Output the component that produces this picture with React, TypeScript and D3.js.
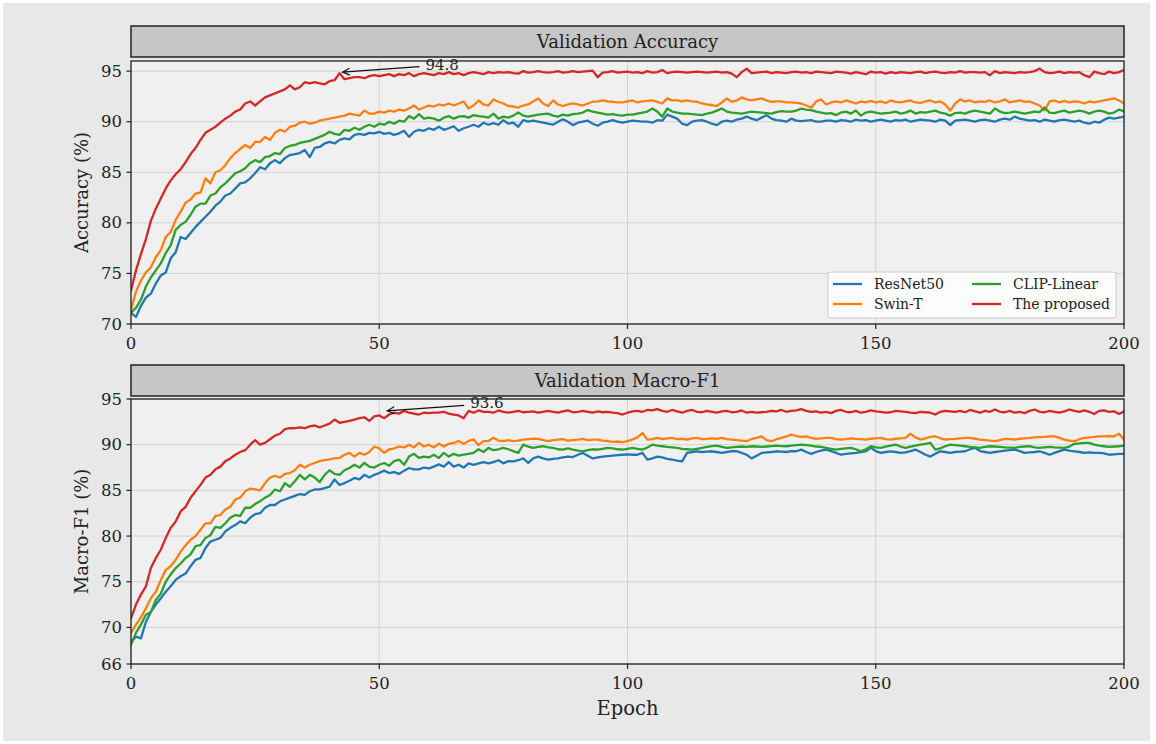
import { useEffect, useRef } from 'react';
import * as d3 from 'd3';

const WIDTH = 1156;
const HEIGHT = 744;

const EPOCH_TICKS = [0, 50, 100, 150, 200];
const ACC_TICKS = [70, 75, 80, 85, 90, 95];
const F1_TICKS = [66, 70, 75, 80, 85, 90, 95];

const MODELS = ['ResNet50', 'Swin-T', 'CLIP-Linear', 'The proposed'];
const COLORS = ['#1f77b4', '#ff7f0e', '#2ca02c', '#d62728'];

// validation accuracy per epoch (0..200)
const RESNET_ACC = [
  71.1, 70.7, 71.8, 72.6, 73.0, 74.0, 74.8, 75.1, 76.5, 77.1,
  78.6, 78.4, 79.0, 79.6, 80.1, 80.6, 81.1, 81.7, 82.1, 82.7,
  82.9, 83.4, 83.9, 84.0, 84.4, 84.9, 85.5, 85.3, 85.9, 86.2,
  85.9, 86.4, 86.7, 86.8, 86.9, 87.2, 86.5, 87.4, 87.5, 87.85,
  88.0, 87.85, 88.2, 88.35, 88.25, 88.7, 88.8, 88.7, 88.9, 88.85,
  89.0, 88.8, 88.9, 88.7, 88.85, 89.1, 88.5, 89.0, 89.2, 89.1,
  89.35, 89.2, 89.5, 89.2, 89.35, 89.55, 89.1, 89.35, 89.5, 89.7,
  89.5, 89.9, 89.7, 89.85, 89.7, 90.15, 89.8, 89.9, 89.5, 90.15,
  90.0, 90.1, 90.0, 89.9, 89.8, 89.7, 90.0, 90.25, 90.0, 89.66,
  89.9, 90.0, 90.1, 89.8, 89.6, 89.9, 90.0, 90.15, 90.0, 89.9,
  90.0, 90.1, 90.05, 90.0, 90.0, 89.9, 90.15, 90.1, 90.7, 90.5,
  90.3, 89.8, 89.66, 90.0, 90.1, 90.15, 90.0, 89.8, 89.66, 90.0,
  90.1, 90.0, 90.2, 90.3, 90.5, 90.3, 90.15, 90.4, 90.65, 90.3,
  90.15, 90.1, 90.0, 90.3, 90.1, 90.05, 90.1, 90.15, 90.0, 90.0,
  90.1, 90.1, 90.0, 90.15, 90.1, 90.0, 90.2, 90.1, 90.15, 90.0,
  90.1, 90.2, 90.1, 90.0, 90.15, 90.1, 90.2, 90.0, 90.1, 90.2,
  90.15, 90.1, 90.0, 90.2, 90.1, 89.66, 90.1, 90.15, 90.2, 90.1,
  90.0, 90.15, 90.2, 90.1, 90.0, 90.2, 90.3, 90.2, 90.5, 90.3,
  90.2, 90.1, 90.15, 90.0, 90.2, 90.1, 90.0, 90.15, 90.2, 90.1,
  90.0, 90.1, 89.9, 89.8, 90.0, 89.9, 90.2, 90.4, 90.3, 90.4,
  90.5,
];
const SWIN_ACC = [
  71.4, 73.2, 74.3, 75.1, 75.6, 76.6, 77.3, 78.6, 79.1, 80.3,
  81.1, 82.0, 82.3, 82.9, 83.0, 84.4, 83.9, 85.0, 85.2, 85.7,
  86.4, 86.9, 87.3, 87.7, 87.4, 88.0, 88.0, 88.5, 88.2, 88.9,
  89.2, 89.0, 89.5, 89.6, 89.9, 90.0, 89.8, 89.9, 90.1, 90.2,
  90.3, 90.4, 90.5, 90.6, 90.8, 90.7, 90.6, 91.1, 90.8, 90.8,
  91.0, 90.9, 91.1, 91.0, 91.2, 91.1, 91.3, 91.6, 91.2, 91.4,
  91.6, 91.5, 91.7, 91.6, 91.8, 91.6, 91.8, 92.0, 91.3, 91.6,
  92.1, 91.7, 91.6, 92.2, 91.97, 91.8, 91.55, 91.5, 91.4, 91.6,
  91.7, 92.0, 92.3, 91.8, 91.55, 92.1, 91.7, 91.55, 91.7, 91.8,
  91.7, 91.6, 91.8, 91.97, 92.0, 92.1, 92.0, 91.97, 91.9, 91.9,
  92.0, 92.1, 91.9, 92.0, 92.05, 92.1, 91.95, 91.8, 92.3, 92.1,
  92.1, 92.0, 92.1, 92.0, 91.97, 91.8, 91.7, 91.65, 91.55, 91.9,
  92.3, 91.97, 92.1, 92.4, 92.2, 92.1, 92.2, 92.3, 92.1, 91.97,
  92.0, 92.0, 91.9, 91.9, 91.85, 91.8, 91.6, 91.4, 92.0, 92.2,
  91.7, 91.9, 92.0, 91.9, 92.1, 91.95, 91.8, 92.0, 91.9, 92.05,
  91.9, 92.0, 91.85, 92.1, 91.95, 91.9, 92.0, 92.1, 91.9, 91.85,
  92.0, 92.1, 91.9, 92.0, 91.7, 91.1, 91.8, 92.2, 92.0, 92.1,
  91.9, 92.0, 91.95, 92.1, 91.9, 92.0, 92.2, 91.9, 92.0, 92.1,
  91.95, 92.0, 91.8, 91.6, 91.1, 92.0, 92.1, 91.9, 92.05, 91.9,
  92.0, 91.95, 91.8, 92.0, 91.9, 92.0, 92.1, 92.2, 92.3, 92.1,
  91.8,
];
const CLIP_ACC = [
  71.1, 71.6, 72.4, 73.7, 74.6, 75.3, 76.0, 77.0, 77.8, 79.3,
  79.8, 80.1, 80.8, 81.6, 81.9, 81.9, 82.7, 82.9, 83.5, 83.9,
  84.4, 84.9, 85.1, 85.4, 85.9, 86.2, 86.0, 86.5, 86.6, 86.9,
  86.8, 87.4, 87.6, 87.7, 87.9, 88.0, 88.1, 88.3, 88.5, 88.7,
  89.0, 88.8, 88.7, 89.2, 89.1, 89.4, 89.2, 89.5, 89.7, 89.5,
  89.8, 89.7, 90.0, 89.8, 90.1, 90.0, 90.55, 90.3, 90.75, 90.3,
  90.4, 90.3, 90.1, 90.4, 90.55, 90.3, 90.5, 90.55, 90.4, 90.65,
  90.55, 90.5, 90.4, 90.8, 90.3, 90.5, 90.4, 90.6, 90.9, 90.6,
  90.5, 90.6, 90.7, 90.75, 90.8, 90.6, 90.5, 90.7, 90.6, 90.75,
  90.8, 90.9, 91.15, 91.0, 90.9, 90.8, 90.7, 90.75, 90.65, 90.6,
  90.7, 90.7, 90.8, 90.9, 91.0, 91.3, 91.0, 90.5, 91.3, 91.0,
  90.9, 90.8, 90.8, 90.75, 90.7, 90.65, 90.8, 90.9, 91.1, 91.3,
  91.0, 90.9, 90.85, 90.8, 90.9, 91.0, 90.95, 90.9, 90.85, 90.8,
  90.95, 91.05, 91.0, 91.0, 91.1, 91.3, 91.2, 91.15, 91.0, 90.9,
  90.8, 90.85, 90.65, 90.9, 91.0, 90.8, 91.1, 90.6, 90.9, 91.0,
  90.9, 90.8, 90.85, 90.9, 91.0, 90.8, 90.9, 91.1, 90.8, 90.95,
  90.9, 91.0, 91.1, 90.9, 90.8, 90.6, 90.85, 90.9, 90.8, 91.0,
  91.1, 91.0, 90.9, 90.8, 91.3, 91.0, 90.85, 90.9, 91.0, 90.9,
  90.8, 90.9, 91.0, 90.95, 91.4, 90.9, 90.85, 91.0, 91.1, 90.9,
  91.0, 91.1, 91.0, 90.8, 91.0, 91.1, 91.0, 90.8, 90.9, 91.2,
  91.0,
];
const PROPOSED_ACC = [
  73.3, 75.3, 76.9, 78.4, 80.2, 81.4, 82.4, 83.4, 84.2, 84.8,
  85.3, 86.0, 86.8, 87.4, 88.2, 88.9, 89.2, 89.5, 89.9, 90.3,
  90.6, 91.0, 91.2, 91.8, 92.0, 91.6, 92.0, 92.4, 92.6, 92.8,
  93.0, 93.2, 93.6, 93.2, 93.4, 93.9, 93.8, 93.9, 93.8, 93.7,
  94.0, 94.1, 94.8, 94.2, 94.3, 94.4, 94.4, 94.3, 94.5, 94.6,
  94.5, 94.6, 94.7, 94.5, 94.7, 94.6, 94.8, 94.5, 94.7, 94.8,
  94.7, 94.6, 94.8, 94.7, 94.9, 94.7, 94.8, 94.6, 94.8, 94.9,
  94.8, 94.7, 94.9, 94.8, 94.9, 94.85, 94.9, 94.8, 94.75, 95.0,
  94.85, 94.9, 95.0, 94.9, 94.85, 94.9, 95.0, 94.85, 94.9, 95.0,
  94.9, 94.95, 95.0, 95.05, 94.4, 94.85, 94.9, 95.0, 94.85, 94.9,
  94.95, 94.85, 94.9, 94.8, 95.0, 94.85, 94.9, 95.1, 94.8, 94.9,
  94.95, 94.9, 94.85, 94.9, 94.95, 94.9, 94.85, 94.9, 94.95, 94.85,
  94.9, 94.75, 94.4, 94.9, 95.25, 94.8, 94.85, 94.9, 94.95, 94.8,
  94.9, 94.85, 94.8, 94.9, 94.95, 94.85, 94.9, 94.8, 94.95, 94.9,
  94.85, 94.8, 94.95, 94.9, 94.85, 94.75, 94.9, 94.8, 94.7, 94.95,
  94.85, 94.9, 94.75, 94.9, 94.8, 94.9, 94.85, 94.8, 94.9, 94.95,
  94.8, 94.9, 94.95, 94.85, 94.8, 94.9, 94.85, 95.0, 94.85, 94.9,
  94.9, 94.85, 94.9, 94.6, 95.0, 94.8, 94.9, 94.85, 94.8, 94.9,
  94.85, 94.9, 95.0, 95.25, 94.9, 94.8, 94.85, 94.95, 94.8, 94.9,
  94.85, 94.9, 94.6, 94.4, 94.95, 94.8, 94.7, 94.95, 94.8, 94.9,
  95.1,
];

// validation macro-F1 per epoch (0..200)
const RESNET_F1 = [
  68.4, 69.0, 68.8, 70.6, 71.7, 72.5, 73.2, 73.9, 74.5, 75.2,
  75.6, 75.9, 76.7, 77.4, 77.6, 78.7, 79.4, 79.6, 79.8, 80.5,
  80.9, 81.2, 81.6, 81.4, 82.0, 82.4, 82.5, 83.1, 83.4, 83.4,
  83.8, 84.0, 84.2, 84.4, 84.6, 84.5, 84.9, 85.1, 85.1, 85.25,
  85.4, 86.2, 85.6, 85.8, 86.05, 86.36, 86.2, 86.7, 86.4, 86.7,
  86.9, 87.16, 86.9, 87.0, 86.8, 87.16, 87.45, 87.3, 87.3, 87.5,
  87.4, 87.6, 87.85, 87.6, 88.1, 87.6, 87.8, 87.5, 87.96, 87.8,
  87.96, 88.1, 87.96, 88.1, 88.3, 87.96, 88.2, 88.18, 88.3, 88.5,
  88.0, 88.5, 88.7, 88.5, 88.36, 88.45, 88.5, 88.6, 88.7, 88.65,
  88.9, 89.1, 88.8, 88.5, 88.6, 88.7, 88.75, 88.8, 88.85, 88.9,
  88.95, 88.9, 88.9, 89.1, 88.36, 88.5, 88.7, 88.6, 88.45, 88.36,
  88.25, 88.18, 89.1, 89.2, 89.28, 89.2, 89.25, 89.28, 89.2, 89.1,
  89.2, 89.3, 89.28, 89.1, 88.9, 88.5, 88.8, 89.1, 89.15, 89.2,
  89.28, 89.25, 89.2, 89.3, 89.28, 89.46, 89.2, 89.0, 89.2, 89.35,
  89.46, 89.3, 89.1, 88.9, 89.0, 89.05, 89.1, 89.2, 89.28, 89.65,
  89.3, 89.1, 89.2, 89.28, 89.2, 89.1, 89.15, 89.3, 89.46, 89.2,
  88.9, 88.7, 89.0, 89.28, 89.2, 89.1, 89.2, 89.25, 89.28, 89.5,
  89.65, 89.3, 89.2, 89.1, 89.2, 89.28, 89.35, 89.4, 89.46, 89.3,
  89.1, 89.15, 89.2, 89.28, 89.1, 88.9, 89.1, 89.3, 89.46, 89.35,
  89.28, 89.2, 89.1, 89.15, 89.1, 89.1, 89.05, 88.9, 88.95, 89.0,
  89.0,
];
const SWIN_F1 = [
  69.4, 70.3, 71.1, 72.1, 73.2, 73.9, 75.2, 76.3, 76.7, 77.4,
  78.3, 79.0, 79.6, 80.0, 80.7, 81.4, 81.4, 82.2, 82.3, 82.9,
  83.2, 84.0, 84.2, 84.9, 85.2, 85.1, 85.0, 85.8, 86.4, 86.6,
  86.4, 86.8, 86.9, 87.2, 87.8, 87.5, 87.8, 88.0, 88.2, 88.3,
  88.4, 88.5, 88.55, 88.9, 89.1, 88.7, 89.1, 88.9, 89.2, 89.8,
  89.6, 89.1, 89.5, 89.6, 89.8, 89.7, 90.0, 89.7, 90.2, 89.8,
  90.0, 89.7, 90.1, 89.8, 90.1, 90.2, 90.4, 90.1, 90.4, 90.6,
  89.95, 90.4, 90.4, 90.75, 90.45, 90.4, 90.5, 90.38, 90.45, 90.56,
  90.6, 90.65, 90.63, 90.5, 90.38, 90.5, 90.56, 90.6, 90.45, 90.5,
  90.55, 90.63, 90.5, 90.56, 90.56, 90.45, 90.38, 90.3, 90.35, 90.27,
  90.4, 90.56, 90.8, 91.28, 90.56, 90.6, 90.74, 90.6, 90.7, 90.74,
  90.6, 90.65, 90.56, 90.7, 90.74, 90.6, 90.63, 90.7, 90.65, 90.74,
  90.6, 90.56, 90.5, 90.45, 90.38, 90.63, 90.75, 90.92, 90.5, 90.38,
  90.6, 90.74, 90.9, 91.1, 90.95, 90.85, 90.92, 90.75, 90.63, 90.7,
  90.74, 90.74, 90.6, 90.56, 90.6, 90.7, 90.63, 90.6, 90.56, 90.65,
  90.7, 90.74, 90.6, 90.56, 90.65, 90.7, 90.74, 91.2, 90.8, 90.56,
  90.7, 90.85, 90.92, 90.7, 90.56, 90.6, 90.63, 90.7, 90.74, 90.74,
  90.65, 90.56, 90.5, 90.45, 90.38, 90.5, 90.63, 90.6, 90.56, 90.65,
  90.7, 90.74, 90.8, 90.83, 90.85, 90.9, 90.92, 90.75, 90.56, 90.45,
  90.38, 90.6, 90.74, 90.8, 90.85, 90.92, 90.9, 90.95, 90.92, 91.2,
  90.56,
];
const CLIP_F1 = [
  68.1, 69.4, 70.3, 71.4, 71.7, 73.0, 73.7, 75.0, 75.8, 76.5,
  77.0, 77.6, 78.0, 78.9, 79.0, 79.8, 80.1, 81.0, 80.9, 81.4,
  82.0, 82.3, 82.2, 83.1, 83.1, 83.5, 83.8, 84.2, 84.5, 85.1,
  84.9, 85.8, 85.4, 86.0, 86.7, 86.2, 86.7, 86.4, 85.9, 86.7,
  87.2, 86.8, 86.7, 87.2, 87.45, 87.8, 87.5, 88.0, 87.6, 87.5,
  87.8, 88.0, 87.7, 88.2, 88.37, 87.8, 88.7, 89.0, 88.55, 88.7,
  88.6, 88.9, 88.55, 89.1, 88.7, 89.0, 88.8, 88.9, 89.0, 89.1,
  89.5, 89.2, 89.65, 89.4, 89.5, 89.65, 89.5, 89.3, 89.1, 90.0,
  89.8, 89.65, 89.75, 89.83, 89.7, 89.65, 89.5, 89.46, 89.6, 89.46,
  89.35, 89.28, 89.4, 89.5, 89.46, 89.55, 89.65, 89.6, 89.5, 89.46,
  89.55, 89.65, 89.55, 89.46, 89.7, 90.0, 89.9, 89.83, 89.75, 89.7,
  89.65, 89.55, 89.5, 89.46, 89.55, 89.65, 89.75, 89.85, 89.9, 89.75,
  89.65, 89.7, 89.75, 89.8, 89.75, 89.83, 89.8, 89.75, 89.8, 89.85,
  89.9, 89.85, 89.83, 89.9, 89.95, 90.0, 89.95, 89.9, 89.8, 89.75,
  89.65, 89.55, 89.46, 89.55, 89.6, 89.65, 89.5, 89.28, 89.5, 89.83,
  89.7, 89.65, 89.8, 89.9, 90.0, 89.8, 89.65, 89.8, 89.9, 90.0,
  90.1, 90.2, 89.46, 89.6, 89.83, 90.0, 89.95, 89.9, 89.83, 89.75,
  89.7, 89.65, 89.75, 89.83, 89.8, 89.75, 89.7, 89.68, 89.65, 89.75,
  89.8, 89.83, 89.7, 89.65, 89.7, 89.75, 89.7, 89.68, 89.65, 89.8,
  90.1, 90.15, 90.2, 90.2, 90.0, 89.9, 89.83, 89.75, 89.8, 89.83,
  89.9,
];
const PROPOSED_F1 = [
  71.0, 72.5, 73.6, 74.5, 76.5, 77.6, 78.5, 79.8, 80.9, 81.6,
  82.7, 83.2, 84.2, 84.9, 85.6, 86.4, 86.7, 87.3, 87.6, 88.2,
  88.5, 88.9, 89.2, 89.4, 90.0, 90.5, 90.0, 90.2, 90.6, 91.0,
  91.2, 91.7, 91.8, 91.8, 91.9, 91.8, 92.0, 92.1, 91.9, 92.1,
  92.3, 92.75, 92.4, 92.5, 92.6, 92.75, 92.9, 93.0, 92.6, 93.1,
  93.2, 92.9, 93.3, 93.5, 93.4, 93.7, 93.5, 93.4, 93.3, 93.5,
  93.45, 93.5, 93.5, 93.6, 93.4, 93.3, 93.2, 92.9, 93.7, 93.5,
  93.75, 93.6, 93.6, 93.5, 93.75, 93.6, 93.5, 93.6, 93.7, 93.55,
  93.6, 93.65, 93.5, 93.6, 93.7, 93.6, 93.5, 93.65, 93.75, 93.55,
  93.6, 93.7, 93.6, 93.5, 93.65, 93.55, 93.6, 93.5, 93.45, 93.3,
  93.5, 93.65, 93.7, 93.6, 93.8, 93.75, 93.9, 93.7, 93.6, 93.8,
  93.65, 93.5, 93.7, 93.8, 93.6, 93.55, 93.7, 93.6, 93.5, 93.65,
  93.7, 93.55, 93.6, 93.75, 93.5, 93.6, 93.5, 93.55, 93.6, 93.7,
  93.65, 93.8, 93.6, 93.7, 93.75, 93.9, 93.7, 93.6, 93.65, 93.5,
  93.6, 93.45, 93.7, 93.8, 93.6, 93.55, 93.7, 93.5, 93.6, 93.75,
  93.65, 93.6, 93.5, 93.55, 93.7, 93.65, 93.6, 93.5, 93.45, 93.6,
  93.55, 93.5, 93.3, 93.6, 93.7, 93.65, 93.6, 93.7, 93.55, 93.8,
  93.65, 93.5, 93.7, 93.6, 93.85, 93.6, 93.55, 93.7, 93.5, 93.6,
  93.45, 93.7, 93.85, 93.6, 93.55, 93.7, 93.6, 93.5, 93.65, 93.85,
  93.7, 93.6, 93.75, 93.6, 93.35, 93.7, 93.75, 93.6, 93.65, 93.35,
  93.65,
];

// best point callouts
const ACC_BEST = { epoch: 42, value: 94.8 };
const F1_BEST = { epoch: 51, value: 93.6 };

const FONT = '"DejaVu Serif", serif';

const App = () => {
  const svgRef = useRef(null);

  useEffect(() => {
    const svg = d3.select(svgRef.current);
    svg.selectAll('*').remove();

    const left = 131;
    const right = 1124;

    svg.append('rect').attr('width', WIDTH).attr('height', HEIGHT).attr('fill', '#ffffff');
    svg.append('rect')
      .attr('x', 3).attr('y', 3)
      .attr('width', 1147).attr('height', 738)
      .attr('fill', '#e8e8e8');

    const panels = [
      {
        title: 'Validation Accuracy', yLabel: 'Accuracy (%)',
        boxTop: 26, boxBottom: 57, top: 61, bottom: 324,
        domain: [70, 96], ticks: ACC_TICKS,
        series: [RESNET_ACC, SWIN_ACC, CLIP_ACC, PROPOSED_ACC],
        best: ACC_BEST, legend: true,
      },
      {
        title: 'Validation Macro-F1', yLabel: 'Macro-F1 (%)',
        boxTop: 365, boxBottom: 396, top: 399, bottom: 664,
        domain: [66, 95], ticks: F1_TICKS,
        series: [RESNET_F1, SWIN_F1, CLIP_F1, PROPOSED_F1],
        best: F1_BEST, legend: false,
      },
    ];

    const x = d3.scaleLinear().domain([0, 200]).range([left, right]);

    panels.forEach((p, pi) => {
      const y = d3.scaleLinear().domain(p.domain).range([p.bottom, p.top]);
      const g = svg.append('g');

      g.append('rect')
        .attr('x', left).attr('y', p.top)
        .attr('width', right - left).attr('height', p.bottom - p.top)
        .attr('fill', '#f0f0f0');

      // grid
      g.selectAll('.gx').data(EPOCH_TICKS).enter().append('line')
        .attr('x1', d => x(d)).attr('x2', d => x(d))
        .attr('y1', p.top).attr('y2', p.bottom)
        .attr('stroke', '#d2d2d2').attr('stroke-width', 1);
      g.selectAll('.gy').data(p.ticks).enter().append('line')
        .attr('x1', left).attr('x2', right)
        .attr('y1', d => y(d)).attr('y2', d => y(d))
        .attr('stroke', '#d2d2d2').attr('stroke-width', 1);

      const clipId = `clip-${pi}`;
      svg.append('clipPath').attr('id', clipId)
        .append('rect')
        .attr('x', left).attr('y', p.top)
        .attr('width', right - left).attr('height', p.bottom - p.top);

      const line = d3.line()
        .x((d, i) => x(i))
        .y(d => y(d));

      g.append('g').attr('clip-path', `url(#${clipId})`)
        .selectAll('path')
        .data(p.series)
        .enter()
        .append('path')
        .attr('d', d => line(d))
        .attr('fill', 'none')
        .attr('stroke', (d, i) => COLORS[i])
        .attr('stroke-width', 2.3)
        .attr('stroke-linejoin', 'round')
        .attr('stroke-linecap', 'square');

      // spines
      g.append('rect')
        .attr('x', left).attr('y', p.top)
        .attr('width', right - left).attr('height', p.bottom - p.top)
        .attr('fill', 'none').attr('stroke', '#222').attr('stroke-width', 1.3);

      // ticks
      g.selectAll('.ty').data(p.ticks).enter().append('line')
        .attr('x1', left - 4.5).attr('x2', left)
        .attr('y1', d => y(d)).attr('y2', d => y(d))
        .attr('stroke', '#222').attr('stroke-width', 1.2);
      g.selectAll('.tyl').data(p.ticks).enter().append('text')
        .attr('x', left - 9).attr('y', d => y(d))
        .attr('text-anchor', 'end').attr('dominant-baseline', 'central')
        .attr('font-family', FONT).attr('font-size', 16.5).attr('fill', '#222')
        .text(d => d);
      g.selectAll('.tx').data(EPOCH_TICKS).enter().append('line')
        .attr('x1', d => x(d)).attr('x2', d => x(d))
        .attr('y1', p.bottom).attr('y2', p.bottom + 5)
        .attr('stroke', '#222').attr('stroke-width', 1.2);
      g.selectAll('.txl').data(EPOCH_TICKS).enter().append('text')
        .attr('x', d => x(d)).attr('y', p.bottom + 19)
        .attr('text-anchor', 'middle').attr('dominant-baseline', 'central')
        .attr('font-family', FONT).attr('font-size', 16.5).attr('fill', '#222')
        .text(d => d);

      // y label
      g.append('text')
        .attr('transform', `translate(81,${(p.top + p.bottom) / 2}) rotate(-90)`)
        .attr('text-anchor', 'middle').attr('dominant-baseline', 'central')
        .attr('font-family', FONT).attr('font-size', 18).attr('fill', '#222')
        .text(p.yLabel);

      // callout
      const px = x(p.best.epoch);
      const py = y(p.best.value);
      const tx = px + 86;
      const ty = py - 8.5;
      g.append('text')
        .attr('x', tx).attr('y', ty)
        .attr('dominant-baseline', 'central')
        .attr('font-family', FONT).attr('font-size', 15).attr('fill', '#222')
        .text(p.best.value.toFixed(1));
      const sx = tx - 6;
      const sy = ty + 2;
      const ex = px + 3;
      const ey = py - 1;
      const ang = Math.atan2(sy - ey, sx - ex);
      const hl = 8;
      const hw = 0.45;
      g.append('path')
        .attr('d', `M${sx},${sy}L${ex},${ey}` +
          `M${ex + hl * Math.cos(ang + hw)},${ey + hl * Math.sin(ang + hw)}L${ex},${ey}` +
          `L${ex + hl * Math.cos(ang - hw)},${ey + hl * Math.sin(ang - hw)}`)
        .attr('fill', 'none').attr('stroke', '#111').attr('stroke-width', 1.2);

      // title strip
      g.append('rect')
        .attr('x', left).attr('y', p.boxTop)
        .attr('width', right - left).attr('height', p.boxBottom - p.boxTop)
        .attr('fill', '#c6c6c6').attr('stroke', '#222').attr('stroke-width', 1.5);
      g.append('text')
        .attr('x', (left + right) / 2).attr('y', (p.boxTop + p.boxBottom) / 2)
        .attr('text-anchor', 'middle').attr('dominant-baseline', 'central')
        .attr('font-family', FONT).attr('font-size', 18).attr('fill', '#222')
        .text(p.title);

      if (p.legend) {
        const lg = g.append('g');
        lg.append('rect')
          .attr('x', 828).attr('y', 272).attr('width', 288).attr('height', 46)
          .attr('rx', 3)
          .attr('fill', '#fcfcfc').attr('stroke', '#cccccc').attr('stroke-width', 1);
        MODELS.forEach((m, i) => {
          const col = Math.floor(i / 2);
          const row = i % 2;
          const lx = col === 0 ? 833 : 972;
          const ly = 284 + row * 20;
          lg.append('line')
            .attr('x1', lx).attr('x2', lx + 29)
            .attr('y1', ly).attr('y2', ly)
            .attr('stroke', COLORS[i]).attr('stroke-width', 2.3);
          lg.append('text')
            .attr('x', lx + 41).attr('y', ly)
            .attr('dominant-baseline', 'central')
            .attr('font-family', FONT).attr('font-size', 14).attr('fill', '#222')
            .text(m);
        });
      }
    });

    svg.append('text')
      .attr('x', (left + right) / 2).attr('y', 708)
      .attr('text-anchor', 'middle').attr('dominant-baseline', 'central')
      .attr('font-family', FONT).attr('font-size', 19.5).attr('fill', '#222')
      .text('Epoch');
  }, []);

  return (
    <div style={{ position: 'absolute', left: 0, top: 0 }}>
      <svg ref={svgRef} width={WIDTH} height={HEIGHT} style={{ display: 'block' }} />
    </div>
  );
};

export default App;
